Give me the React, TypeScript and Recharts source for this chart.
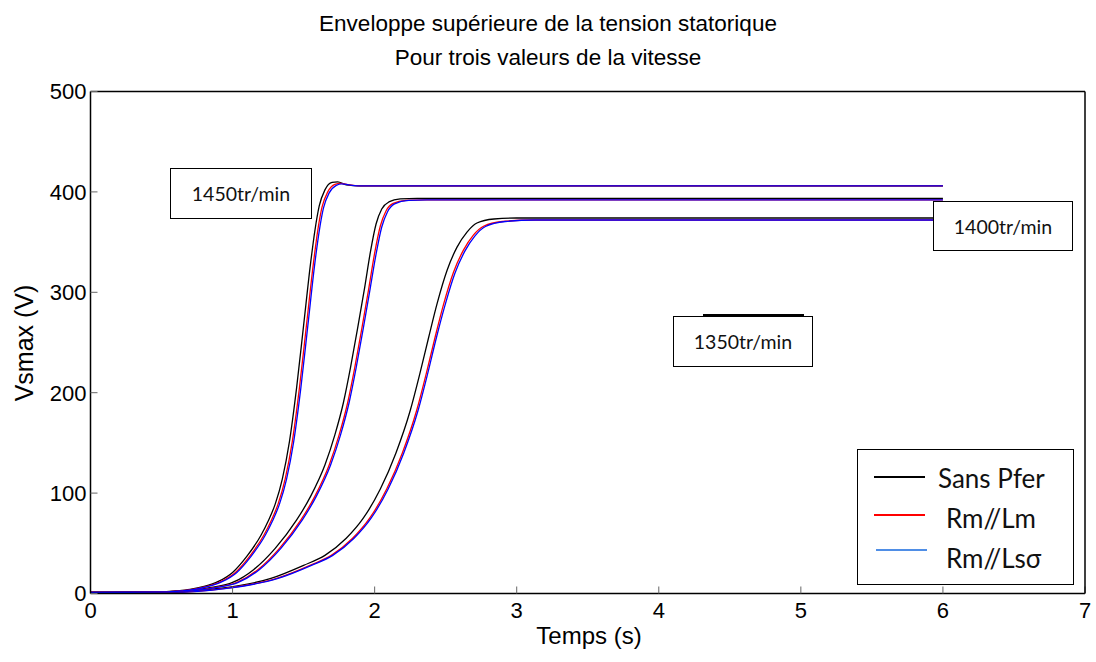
import React from "react";
import { LineChart, Line, XAxis, YAxis } from "recharts";

type Pt = { t: number; v: number };

const ticksX = [0, 1, 2, 3, 4, 5, 6, 7];
const ticksY = [0, 100, 200, 300, 400, 500];

// 1450 tr/min
const black1450: Pt[] = [
  { t: 0, v: 1 }, { t: 0.5, v: 1.5 }, { t: 0.6, v: 2.5 }, { t: 0.7, v: 4 }, { t: 0.8, v: 7 },
  { t: 0.9, v: 12 }, { t: 1.0, v: 21 }, { t: 1.1, v: 37 }, { t: 1.2, v: 58 }, { t: 1.25, v: 72 },
  { t: 1.3, v: 89 }, { t: 1.35, v: 114 }, { t: 1.4, v: 151 }, { t: 1.45, v: 204 }, { t: 1.5, v: 267 },
  { t: 1.55, v: 330 }, { t: 1.58, v: 362 }, { t: 1.61, v: 386 }, { t: 1.65, v: 402 }, { t: 1.7, v: 409.5 },
  { t: 1.74, v: 410 }, { t: 1.8, v: 407 }, { t: 1.9, v: 406 }, { t: 6, v: 406 },
];
const red1450: Pt[] = [
  { t: 0, v: 1 }, { t: 0.52, v: 1.5 }, { t: 0.62, v: 2.5 }, { t: 0.72, v: 4 }, { t: 0.82, v: 7 },
  { t: 0.92, v: 12 }, { t: 1.02, v: 21 }, { t: 1.12, v: 37 }, { t: 1.22, v: 58 }, { t: 1.27, v: 72 },
  { t: 1.32, v: 89 }, { t: 1.37, v: 114 }, { t: 1.42, v: 151 }, { t: 1.47, v: 204 }, { t: 1.52, v: 267 },
  { t: 1.57, v: 330 }, { t: 1.6, v: 362 }, { t: 1.63, v: 385 }, { t: 1.67, v: 400 }, { t: 1.72, v: 407.5 },
  { t: 1.76, v: 408.5 }, { t: 1.82, v: 407 }, { t: 1.9, v: 406 }, { t: 6, v: 406 },
];
const blue1450: Pt[] = [
  { t: 0, v: 1 }, { t: 0.53, v: 1.5 }, { t: 0.63, v: 2.5 }, { t: 0.73, v: 4 }, { t: 0.83, v: 7 },
  { t: 0.93, v: 12 }, { t: 1.03, v: 21 }, { t: 1.13, v: 37 }, { t: 1.23, v: 58 }, { t: 1.28, v: 72 },
  { t: 1.33, v: 89 }, { t: 1.38, v: 114 }, { t: 1.43, v: 151 }, { t: 1.48, v: 204 }, { t: 1.53, v: 267 },
  { t: 1.58, v: 330 }, { t: 1.61, v: 361 }, { t: 1.64, v: 384 }, { t: 1.68, v: 399 }, { t: 1.73, v: 406.5 },
  { t: 1.77, v: 408 }, { t: 1.84, v: 406.5 }, { t: 1.92, v: 406 }, { t: 6, v: 406 },
];

// 1400 tr/min
const black1400: Pt[] = [
  { t: 0, v: 1 }, { t: 0.5, v: 1.5 }, { t: 0.7, v: 3 }, { t: 0.85, v: 6 }, { t: 1.0, v: 11 },
  { t: 1.15, v: 24 }, { t: 1.3, v: 45 }, { t: 1.45, v: 73 }, { t: 1.55, v: 97 }, { t: 1.65, v: 128 },
  { t: 1.72, v: 158 }, { t: 1.78, v: 190 }, { t: 1.83, v: 225 }, { t: 1.88, v: 264 }, { t: 1.93, v: 305 },
  { t: 1.97, v: 340 }, { t: 2.01, v: 368 }, { t: 2.05, v: 383 }, { t: 2.1, v: 390 }, { t: 2.18, v: 393 },
  { t: 2.3, v: 393.5 }, { t: 6, v: 393.5 },
];
const red1400: Pt[] = [
  { t: 0, v: 1 }, { t: 0.53, v: 1.5 }, { t: 0.73, v: 3 }, { t: 0.88, v: 6 }, { t: 1.03, v: 11 },
  { t: 1.18, v: 24 }, { t: 1.33, v: 45 }, { t: 1.48, v: 73 }, { t: 1.58, v: 97 }, { t: 1.68, v: 128 },
  { t: 1.75, v: 158 }, { t: 1.81, v: 190 }, { t: 1.86, v: 225 }, { t: 1.91, v: 264 }, { t: 1.96, v: 305 },
  { t: 2.0, v: 339 }, { t: 2.04, v: 366 }, { t: 2.08, v: 381 }, { t: 2.13, v: 388.5 }, { t: 2.22, v: 391.5 },
  { t: 2.35, v: 392 }, { t: 6, v: 392 },
];
const blue1400: Pt[] = [
  { t: 0, v: 1 }, { t: 0.54, v: 1.5 }, { t: 0.74, v: 3 }, { t: 0.89, v: 6 }, { t: 1.04, v: 11 },
  { t: 1.19, v: 24 }, { t: 1.34, v: 45 }, { t: 1.49, v: 73 }, { t: 1.59, v: 97 }, { t: 1.69, v: 128 },
  { t: 1.76, v: 158 }, { t: 1.82, v: 190 }, { t: 1.87, v: 225 }, { t: 1.92, v: 264 }, { t: 1.97, v: 305 },
  { t: 2.01, v: 338 }, { t: 2.05, v: 365 }, { t: 2.09, v: 380 }, { t: 2.14, v: 388 }, { t: 2.24, v: 391.5 },
  { t: 2.37, v: 392 }, { t: 6, v: 392 },
];

// 1350 tr/min
const black1350: Pt[] = [
  { t: 0, v: 1 }, { t: 0.5, v: 1 }, { t: 0.9, v: 5 }, { t: 1.27, v: 15 }, { t: 1.5, v: 28 },
  { t: 1.65, v: 38 }, { t: 1.8, v: 55 }, { t: 1.92, v: 75 }, { t: 2.04, v: 104 }, { t: 2.15, v: 140 },
  { t: 2.25, v: 182 }, { t: 2.32, v: 220 }, { t: 2.38, v: 255 }, { t: 2.44, v: 289 }, { t: 2.51, v: 322 },
  { t: 2.58, v: 345 }, { t: 2.65, v: 360 }, { t: 2.72, v: 369 }, { t: 2.84, v: 373 }, { t: 3.0, v: 374 },
  { t: 6, v: 374 },
];
const red1350: Pt[] = [
  { t: 0, v: 1 }, { t: 0.55, v: 1 }, { t: 0.95, v: 5 }, { t: 1.31, v: 15 }, { t: 1.545, v: 28 },
  { t: 1.695, v: 38 }, { t: 1.845, v: 55 }, { t: 1.965, v: 75 }, { t: 2.085, v: 104 }, { t: 2.195, v: 140 },
  { t: 2.295, v: 182 }, { t: 2.365, v: 220 }, { t: 2.425, v: 255 }, { t: 2.485, v: 288 }, { t: 2.555, v: 320 },
  { t: 2.625, v: 342 }, { t: 2.695, v: 357 }, { t: 2.77, v: 366 }, { t: 2.9, v: 370.5 }, { t: 3.1, v: 372 },
  { t: 6, v: 372 },
];
const blue1350: Pt[] = [
  { t: 0, v: 1 }, { t: 0.56, v: 1 }, { t: 0.96, v: 5 }, { t: 1.32, v: 15 }, { t: 1.555, v: 28 },
  { t: 1.705, v: 38 }, { t: 1.855, v: 55 }, { t: 1.975, v: 75 }, { t: 2.095, v: 104 }, { t: 2.205, v: 140 },
  { t: 2.305, v: 182 }, { t: 2.375, v: 220 }, { t: 2.435, v: 255 }, { t: 2.495, v: 287 }, { t: 2.565, v: 319 },
  { t: 2.635, v: 341 }, { t: 2.705, v: 356 }, { t: 2.78, v: 365.5 }, { t: 2.92, v: 370.5 }, { t: 3.13, v: 372 },
  { t: 6, v: 372 },
];

const speedLabels = ["1450tr/min", "1400tr/min", "1350tr/min"];
const legendNames = ["Sans Pfer", "Rm//Lm", "Rm//Lsσ"];

const BLACK = "#000000";
const RED = "#ff0000";
const BLUE = "#0000ff";
const LEGEND_BLUE = "#4f8ee6";

const series: { key: string; data: Pt[]; color: string }[] = [
  { key: "b1350", data: black1350, color: BLACK },
  { key: "r1350", data: red1350, color: RED },
  { key: "u1350", data: blue1350, color: BLUE },
  { key: "b1400", data: black1400, color: BLACK },
  { key: "r1400", data: red1400, color: RED },
  { key: "u1400", data: blue1400, color: BLUE },
  { key: "b1450", data: black1450, color: BLACK },
  { key: "r1450", data: red1450, color: RED },
  { key: "u1450", data: blue1450, color: BLUE },
];

const tickFont = { fontFamily: "'Liberation Sans', Arial, sans-serif", fontSize: 22, fill: "#000" };
const boxFont = "Lato, 'Open Sans', sans-serif";

const boxStyle: React.CSSProperties = {
  position: "absolute",
  boxSizing: "border-box",
  border: "1.5px solid #000",
  background: "#fff",
  display: "flex",
  alignItems: "center",
  justifyContent: "center",
  fontFamily: boxFont,
  fontSize: 19.5,
  color: "#111",
};

export default function App() {
  return (
    <div style={{ position: "absolute", left: 0, top: 0, width: 1096, height: 662, background: "#fff" }}>
      <LineChart width={1096} height={662} margin={{ top: 90.5, right: 10, bottom: 38.5, left: 40.5 }}>
        <XAxis
          type="number"
          dataKey="t"
          domain={[0, 7]}
          ticks={ticksX}
          height={30}
          tick={tickFont}
          tickSize={-7}
          tickMargin={16}
          tickLine={{ stroke: "#666" }}
          axisLine={{ stroke: "#000", strokeWidth: 1.5 }}
          allowDataOverflow
        />
        <XAxis
          xAxisId="top"
          orientation="top"
          type="number"
          dataKey="t"
          domain={[0, 7]}
          ticks={ticksX}
          height={1}
          tick={false}
          tickSize={-7}
          tickLine={{ stroke: "#666" }}
          axisLine={{ stroke: "#000", strokeWidth: 1.5 }}
          allowDataOverflow
        />
        <YAxis
          type="number"
          domain={[0, 500]}
          ticks={ticksY}
          width={50}
          tick={tickFont}
          tickSize={-7}
          tickMargin={11}
          tickLine={{ stroke: "#666" }}
          axisLine={{ stroke: "#000", strokeWidth: 1.5 }}
          allowDataOverflow
        />
        <YAxis
          yAxisId="right"
          orientation="right"
          type="number"
          domain={[0, 500]}
          ticks={ticksY}
          width={1}
          tick={false}
          tickSize={-7}
          tickLine={{ stroke: "#666" }}
          axisLine={{ stroke: "#000", strokeWidth: 1.5 }}
          allowDataOverflow
        />
        {series.map((s) => (
          <Line
            key={s.key}
            data={s.data}
            dataKey="v"
            type="monotone"
            stroke={s.color}
            strokeWidth={1.3}
            dot={false}
            isAnimationActive={false}
          />
        ))}
      </LineChart>

      {/* title */}
      <div
        style={{
          position: "absolute",
          left: 0,
          top: 7,
          width: 1096,
          textAlign: "center",
          fontFamily: "'Liberation Sans', Arial, sans-serif",
          fontSize: 22.5,
          lineHeight: "34px",
        }}
      >
        <div>Enveloppe supérieure de la tension statorique</div>
        <div>Pour trois valeurs de la vitesse</div>
      </div>

      {/* axis labels */}
      <div
        style={{
          position: "absolute",
          left: 534,
          top: 622,
          width: 110,
          textAlign: "center",
          fontFamily: "'Liberation Sans', Arial, sans-serif",
          fontSize: 24,
          whiteSpace: "nowrap",
        }}
      >
        Temps (s)
      </div>
      <div
        style={{
          position: "absolute",
          left: 24,
          top: 343,
          transform: "translate(-50%, -50%) rotate(-90deg)",
          fontFamily: "'Liberation Sans', Arial, sans-serif",
          fontSize: 25,
          whiteSpace: "nowrap",
        }}
      >
        Vsmax (V)
      </div>

      {/* speed annotations */}
      <div style={{ ...boxStyle, left: 170, top: 168, width: 142, height: 51 }}>{speedLabels[0]}</div>
      <div style={{ ...boxStyle, left: 933, top: 201, width: 140, height: 50 }}>{speedLabels[1]}</div>
      <div style={{ position: "absolute", left: 703, top: 314, width: 101, height: 2, background: "#000" }} />
      <div style={{ ...boxStyle, left: 673, top: 316, width: 140, height: 51 }}>{speedLabels[2]}</div>

      {/* legend */}
      <div
        style={{
          position: "absolute",
          boxSizing: "border-box",
          left: 857,
          top: 449,
          width: 217,
          height: 136,
          border: "1.5px solid #000",
          background: "#fff",
          fontFamily: boxFont,
          fontSize: 26,
          color: "#111",
        }}
      >
        {legendNames.map((name, i) => {
          const color = i === 0 ? BLACK : i === 1 ? RED : LEGEND_BLUE;
          const cy = [28, 68, 108][i];
          const lineY = [27, 65, 100][i];
          const textX = i === 0 ? 80 : 88;
          return (
            <React.Fragment key={name}>
              <div
                style={{
                  position: "absolute",
                  left: 16 + (i === 2 ? 2 : 0),
                  top: lineY - 1,
                  width: 51,
                  height: 2,
                  background: color,
                }}
              />
              <div
                style={{
                  position: "absolute",
                  left: textX,
                  top: cy - 17,
                  lineHeight: "34px",
                  whiteSpace: "nowrap",
                }}
              >
                {name}
              </div>
            </React.Fragment>
          );
        })}
      </div>
    </div>
  );
}
